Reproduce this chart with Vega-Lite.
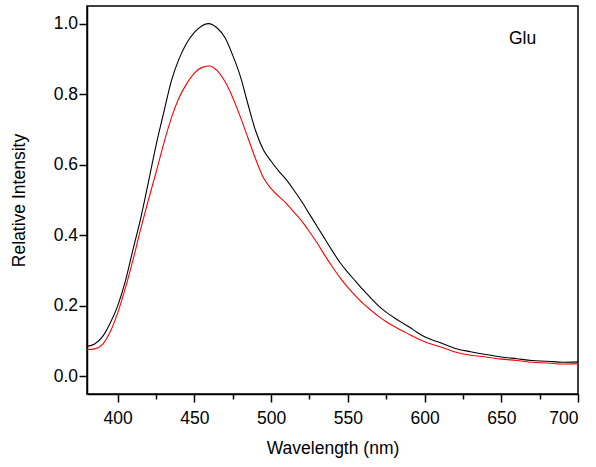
{
  "$schema": "https://vega.github.io/schema/vega-lite/v6.json",
  "width": 491,
  "height": 388,
  "autosize": "none",
  "padding": {"left": 87, "top": 6, "right": 18, "bottom": 73},
  "background": "white",
  "config": {
    "font": "Liberation Sans",
    "view": {"stroke": "#000000", "strokeWidth": 1.5},
    "axis": {
      "grid": false,
      "domainColor": "#000000",
      "domainWidth": 1.5,
      "tickColor": "#000000",
      "tickWidth": 1.5,
      "labelColor": "#000000",
      "labelFont": "Liberation Sans",
      "labelFontSize": 17.5,
      "titleColor": "#000000",
      "titleFont": "Liberation Sans",
      "titleFontSize": 17.5,
      "titleFontWeight": "normal",
      "labelOverlap": false
    }
  },
  "datasets": {
    "spectra": [
      {"w": 380, "v": 0.085, "s": "black"},
      {"w": 385, "v": 0.092, "s": "black"},
      {"w": 390, "v": 0.112, "s": "black"},
      {"w": 395, "v": 0.15, "s": "black"},
      {"w": 400, "v": 0.2, "s": "black"},
      {"w": 405, "v": 0.27, "s": "black"},
      {"w": 410, "v": 0.36, "s": "black"},
      {"w": 415, "v": 0.448, "s": "black"},
      {"w": 420, "v": 0.55, "s": "black"},
      {"w": 425, "v": 0.655, "s": "black"},
      {"w": 430, "v": 0.748, "s": "black"},
      {"w": 435, "v": 0.838, "s": "black"},
      {"w": 440, "v": 0.9, "s": "black"},
      {"w": 445, "v": 0.945, "s": "black"},
      {"w": 450, "v": 0.975, "s": "black"},
      {"w": 455, "v": 0.994, "s": "black"},
      {"w": 459, "v": 1.0, "s": "black"},
      {"w": 465, "v": 0.987, "s": "black"},
      {"w": 470, "v": 0.96, "s": "black"},
      {"w": 475, "v": 0.91, "s": "black"},
      {"w": 480, "v": 0.85, "s": "black"},
      {"w": 485, "v": 0.77, "s": "black"},
      {"w": 490, "v": 0.695, "s": "black"},
      {"w": 495, "v": 0.642, "s": "black"},
      {"w": 500, "v": 0.61, "s": "black"},
      {"w": 505, "v": 0.582, "s": "black"},
      {"w": 510, "v": 0.557, "s": "black"},
      {"w": 515, "v": 0.527, "s": "black"},
      {"w": 520, "v": 0.495, "s": "black"},
      {"w": 525, "v": 0.46, "s": "black"},
      {"w": 530, "v": 0.425, "s": "black"},
      {"w": 535, "v": 0.39, "s": "black"},
      {"w": 540, "v": 0.355, "s": "black"},
      {"w": 545, "v": 0.322, "s": "black"},
      {"w": 550, "v": 0.295, "s": "black"},
      {"w": 555, "v": 0.27, "s": "black"},
      {"w": 560, "v": 0.245, "s": "black"},
      {"w": 565, "v": 0.222, "s": "black"},
      {"w": 570, "v": 0.2, "s": "black"},
      {"w": 575, "v": 0.182, "s": "black"},
      {"w": 580, "v": 0.167, "s": "black"},
      {"w": 585, "v": 0.153, "s": "black"},
      {"w": 590, "v": 0.14, "s": "black"},
      {"w": 595, "v": 0.125, "s": "black"},
      {"w": 600, "v": 0.112, "s": "black"},
      {"w": 610, "v": 0.096, "s": "black"},
      {"w": 620, "v": 0.079, "s": "black"},
      {"w": 630, "v": 0.07, "s": "black"},
      {"w": 640, "v": 0.062, "s": "black"},
      {"w": 650, "v": 0.055, "s": "black"},
      {"w": 660, "v": 0.05, "s": "black"},
      {"w": 670, "v": 0.045, "s": "black"},
      {"w": 680, "v": 0.043, "s": "black"},
      {"w": 690, "v": 0.04, "s": "black"},
      {"w": 700, "v": 0.041, "s": "black"},
      {"w": 380, "v": 0.076, "s": "red"},
      {"w": 385, "v": 0.078, "s": "red"},
      {"w": 390, "v": 0.09, "s": "red"},
      {"w": 395, "v": 0.125, "s": "red"},
      {"w": 400, "v": 0.18, "s": "red"},
      {"w": 405, "v": 0.25, "s": "red"},
      {"w": 410, "v": 0.33, "s": "red"},
      {"w": 415, "v": 0.418, "s": "red"},
      {"w": 420, "v": 0.5, "s": "red"},
      {"w": 425, "v": 0.578, "s": "red"},
      {"w": 430, "v": 0.66, "s": "red"},
      {"w": 435, "v": 0.733, "s": "red"},
      {"w": 440, "v": 0.79, "s": "red"},
      {"w": 445, "v": 0.83, "s": "red"},
      {"w": 450, "v": 0.86, "s": "red"},
      {"w": 455, "v": 0.876, "s": "red"},
      {"w": 460, "v": 0.88, "s": "red"},
      {"w": 465, "v": 0.866, "s": "red"},
      {"w": 470, "v": 0.835, "s": "red"},
      {"w": 475, "v": 0.79, "s": "red"},
      {"w": 480, "v": 0.735, "s": "red"},
      {"w": 485, "v": 0.675, "s": "red"},
      {"w": 490, "v": 0.615, "s": "red"},
      {"w": 495, "v": 0.563, "s": "red"},
      {"w": 500, "v": 0.532, "s": "red"},
      {"w": 505, "v": 0.51, "s": "red"},
      {"w": 510, "v": 0.49, "s": "red"},
      {"w": 515, "v": 0.465, "s": "red"},
      {"w": 520, "v": 0.44, "s": "red"},
      {"w": 525, "v": 0.41, "s": "red"},
      {"w": 530, "v": 0.378, "s": "red"},
      {"w": 535, "v": 0.343, "s": "red"},
      {"w": 540, "v": 0.31, "s": "red"},
      {"w": 545, "v": 0.279, "s": "red"},
      {"w": 550, "v": 0.252, "s": "red"},
      {"w": 555, "v": 0.228, "s": "red"},
      {"w": 560, "v": 0.206, "s": "red"},
      {"w": 565, "v": 0.188, "s": "red"},
      {"w": 570, "v": 0.17, "s": "red"},
      {"w": 575, "v": 0.155, "s": "red"},
      {"w": 580, "v": 0.142, "s": "red"},
      {"w": 585, "v": 0.13, "s": "red"},
      {"w": 590, "v": 0.119, "s": "red"},
      {"w": 595, "v": 0.108, "s": "red"},
      {"w": 600, "v": 0.098, "s": "red"},
      {"w": 610, "v": 0.084, "s": "red"},
      {"w": 620, "v": 0.069, "s": "red"},
      {"w": 630, "v": 0.06, "s": "red"},
      {"w": 640, "v": 0.055, "s": "red"},
      {"w": 650, "v": 0.049, "s": "red"},
      {"w": 660, "v": 0.045, "s": "red"},
      {"w": 670, "v": 0.04, "s": "red"},
      {"w": 680, "v": 0.038, "s": "red"},
      {"w": 690, "v": 0.035, "s": "red"},
      {"w": 700, "v": 0.036, "s": "red"}
    ],
    "note": [
      {"w": 655, "v": 0.943, "label": "Glu"}
    ]
  },
  "layer": [
    {
      "data": {"name": "spectra"},
      "mark": {"type": "line", "strokeWidth": 1.1, "interpolate": "monotone", "clip": true},
      "encoding": {
        "x": {
          "field": "w",
          "type": "quantitative",
          "scale": {"domain": [380, 700], "nice": false, "zero": false},
          "axis": {
            "title": "Wavelength (nm)",
            "values": [400, 425, 450, 475, 500, 525, 550, 575, 600, 625, 650, 675, 700],
            "labelExpr": "datum.value % 50 === 0 ? datum.label : ''",
            "tickSize": {"condition": {"test": "datum.value % 50 !== 0", "value": 5}, "value": 8},
            "labelPadding": 7,
            "titlePadding": 13
          }
        },
        "y": {
          "field": "v",
          "type": "quantitative",
          "scale": {"domain": [-0.05, 1.05], "nice": false, "zero": false},
          "axis": {
            "title": "Relative Intensity",
            "values": [0, 0.1, 0.2, 0.3, 0.4, 0.5, 0.6, 0.7, 0.8, 0.9, 1.0],
            "format": ".1f",
            "labelExpr": "round(datum.value * 10) % 2 === 0 ? datum.label : ''",
            "tickSize": {"condition": {"test": "round(datum.value * 10) % 2 !== 0", "value": 4}, "value": 8},
            "labelPadding": 1.5,
            "titlePadding": 25
          }
        },
        "color": {
          "field": "s",
          "type": "nominal",
          "scale": {"domain": ["black", "red"], "range": ["#000000", "#ff0000"]},
          "legend": null
        }
      }
    },
    {
      "data": {"name": "note"},
      "mark": {"type": "text", "align": "left", "baseline": "alphabetic", "font": "Liberation Sans", "fontSize": 17.5, "color": "#000000"},
      "encoding": {
        "x": {"field": "w", "type": "quantitative"},
        "y": {"field": "v", "type": "quantitative"},
        "text": {"field": "label"}
      }
    }
  ]
}
